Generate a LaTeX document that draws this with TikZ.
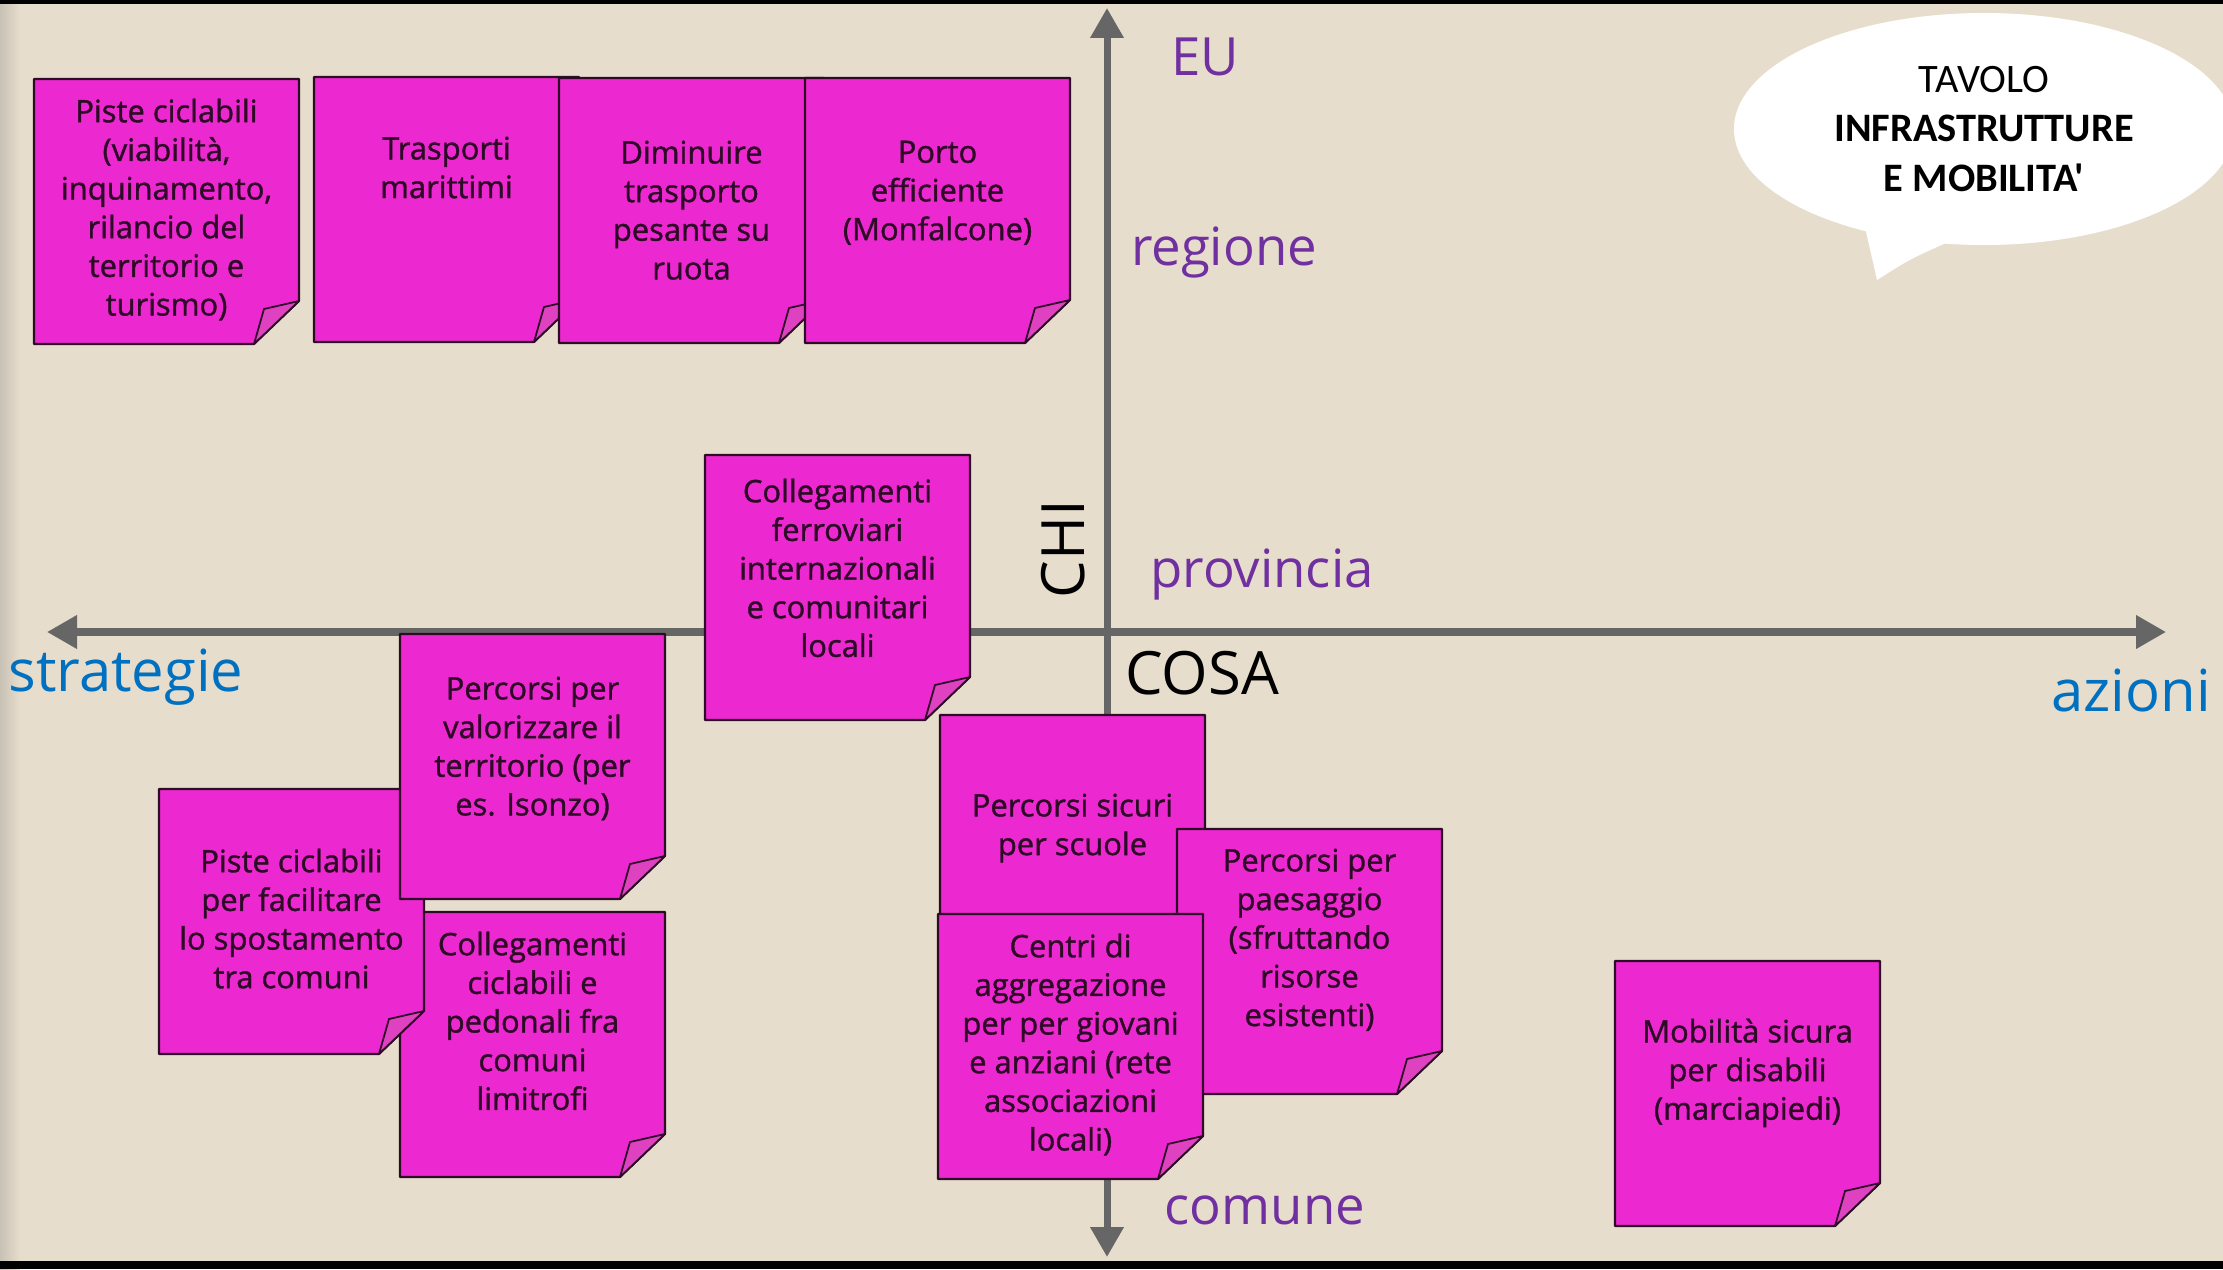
\documentclass[tikz,border=0pt]{standalone}
\usepackage{fontspec}
\setmainfont{Open Sans}
\newfontfamily\bubblefont{Carlito}
\newfontfamily\notefont{Open Sans}[BoldFont={Open Sans}, BoldFeatures={FakeBold=1.2}]
\usetikzlibrary{positioning,calc,arrows.meta,shapes.geometric}
\definecolor{paper}{RGB}{231,221,204}
\definecolor{postit}{RGB}{236,40,208}
\definecolor{flap}{RGB}{222,66,192}
\definecolor{ink}{RGB}{45,10,38}
\definecolor{axisgrey}{RGB}{102,102,102}
\definecolor{levelpurple}{RGB}{112,48,160}
\definecolor{sideblue}{RGB}{0,112,192}

\tikzset{
  notepaper/.style={fill=postit, draw=ink, line width=0.6pt, line join=round},
  noteflap/.style={fill=flap, draw=ink, line width=0.5pt, line join=round},
  notetext/.style={text=ink, align=center, inner sep=0pt, font=\notefont\bfseries\fontsize{8.8}{11}\selectfont},
  axisline/.style={draw=axisgrey, line width=2pt,
    {Triangle[length=0.3cm,width=0.32cm]}-{Triangle[length=0.3cm,width=0.32cm]}},
  levellabel/.style={text=levelpurple, font=\fontsize{15}{18}\selectfont},
  sidelabel/.style={text=sideblue, font=\fontsize{16.5}{18}\selectfont},
  whatlabel/.style={text=black, font=\fontsize{17}{20}\selectfont}
}

% one post-it: name, top left corner, gap above the text, text
\newcommand{\postit}[4]{%
  \coordinate (#1-nw) at (#2);
  \filldraw[notepaper] (#1-nw) -- ++(2.65,0) -- ++(0,-2.22) -- ++(-0.45,-0.43) -- ++(-2.2,0) -- cycle;
  \filldraw[noteflap] ($(#1-nw)+(2.65,-2.22)$) -- ++(-0.35,-0.08) -- ++(-0.1,-0.35) -- cycle;
  \coordinate (#1-top) at ($(#1-nw)+(1.325,0)$);
  \node[notetext, below=#3 of #1-top] (#1) {#4};
}

\begin{document}
\begin{tikzpicture}
    \useasboundingbox (0,0) rectangle (22.23,12.69);
    \clip (0,0) rectangle (22.23,12.69);
    % background
    \fill[paper] (0,0) rectangle (22.23,12.69);
    \shade[left color=paper!70!gray, right color=paper] (0,0) rectangle (0.2,12.69);
    \fill[black] (0,12.65) rectangle (22.23,12.69);
    \fill[black] (0,0) rectangle (22.23,0.08);

    % axes
    \coordinate (strat-end) at (0.47,6.37);
    \coordinate (azioni-end) at (21.66,6.37);
    \coordinate (eu-end) at (11.07,12.61);
    \coordinate (comune-end) at (11.07,0.12);
    \draw[axisline] (strat-end) -- (azioni-end);
    \draw[axisline] (comune-end) -- (eu-end);

    % labels
    \node[levellabel] (eu) at (12.05,12.12) {EU};
    \node[levellabel] (regione) at (12.24,10.17) {regione};
    \node[levellabel] (provincia) at (12.62,6.95) {provincia};
    \node[levellabel] (comune) at (12.65,0.59) {comune};
    \node[whatlabel, rotate=90] (chi) at (10.63,7.20) {CHI};
    \node[whatlabel] (cosa) at (12.02,5.96) {COSA};
    \node[sidelabel] (strategie) at (1.26,5.92) {strategie};
    \node[sidelabel] (azioni) at (21.31,5.79) {azioni};

    % speech bubble
    \node[ellipse, fill=white, inner sep=0pt, minimum width=5cm, minimum height=2.32cm,
      align=center, font=\bubblefont\fontsize{11.5}{14.2}\selectfont] (tavolo) at (19.84,11.40)
      {TAVOLO\\ \textbf{INFRASTRUTTURE}\\ \textbf{E MOBILITA'}};
    \fill[white] (18.62,10.55) -- (18.77,9.89) .. controls (19.1,10.1) .. (19.55,10.30) -- cycle;

    % top row
    \postit{ciclabili}{0.34,11.90}{0.19cm}{Piste ciclabili\\(viabilità,\\inquinamento,\\rilancio del\\territorio e\\turismo)}
    \postit{marittimi}{3.14,11.92}{0.59cm}{Trasporti\\marittimi}
    \postit{pesante}{5.59,11.91}{0.62cm}{Diminuire\\trasporto\\pesante su\\ruota}
    \postit{porto}{8.05,11.91}{0.62cm}{Porto\\efficiente\\(Monfalcone)}
    % middle
    \postit{ferrovie}{7.05,8.14}{0.23cm}{Collegamenti\\ferroviari\\internazionali\\e comunitari\\locali}
    % lower left
    \postit{pedonali}{4.00,3.57}{0.19cm}{Collegamenti\\ciclabili e\\pedonali fra\\comuni\\limitrofi}
    \postit{comuni}{1.59,4.80}{0.59cm}{Piste ciclabili\\per facilitare\\lo spostamento\\tra comuni}
    \postit{isonzo}{4.00,6.35}{0.42cm}{Percorsi per\\valorizzare il\\territorio (per\\es. Isonzo)}
    % lower middle
    \postit{scuole}{9.40,5.54}{0.78cm}{Percorsi sicuri\\per scuole}
    \postit{paesaggio}{11.77,4.40}{0.19cm}{Percorsi per\\paesaggio\\(sfruttando\\risorse\\esistenti)}
    \postit{centri}{9.38,3.55}{0.19cm}{Centri di\\aggregazione\\per per giovani\\e anziani (rete\\associazioni\\locali)}
    % lower right
    \postit{disabili}{16.15,3.08}{0.57cm}{Mobilità sicura\\per disabili\\(marciapiedi)}
\end{tikzpicture}
\end{document}
